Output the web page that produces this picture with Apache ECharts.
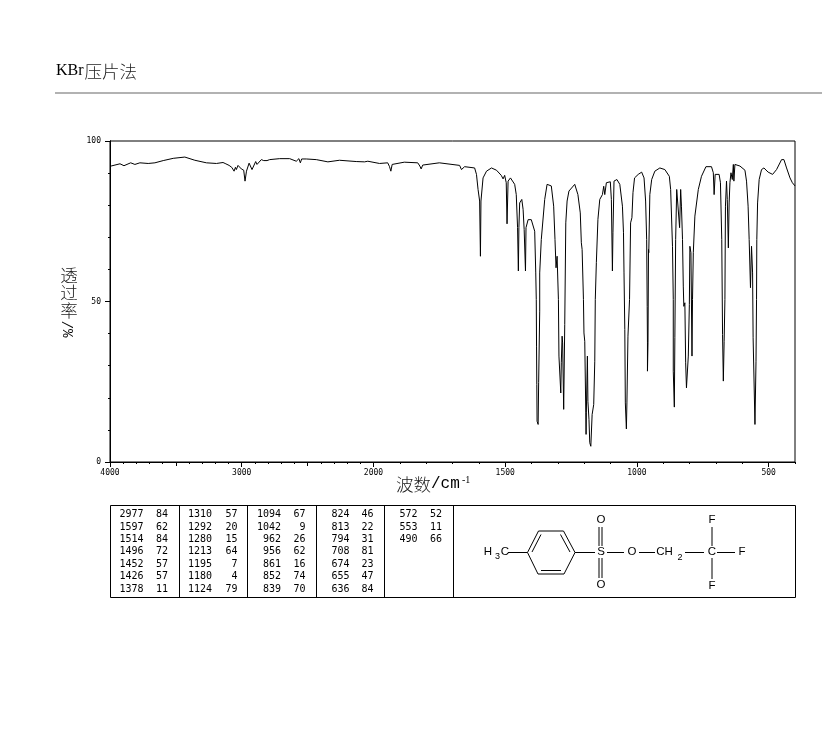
<!DOCTYPE html>
<html>
<head>
<meta charset="utf-8">
<script src="https://cdn.jsdelivr.net/npm/echarts@6/dist/echarts.min.js"></script>
<style>html,body{margin:0;padding:0;background:#fff}#c{width:822px;height:737px}</style>
</head>
<body>
<div id="c"></div>
<script>
var wavenumbers = [3992,3924,3894,3843,3811,3773,3710,3659,3596,3520,3432,3356,3268,3192,3142,3126,3111,3096,3086,3076,3066,3058,3048,3041,3028,3015,3003,2985,2975,2964,2944,2922,2894,2884,2851,2833,2821,2808,2788,2712,2636,2586,2566,2555,2545,2510,2434,2346,2258,2131,2068,2043,1977,1946,1939,1934,1929,1883,1832,1824,1819,1813,1750,1673,1666,1660,1654,1616,1609,1603,1597,1594,1592,1584,1571,1552,1533,1515,1508,1502,1496,1493,1489,1480,1464,1458,1453,1450,1448,1445,1437,1432,1428,1423,1421,1413,1401,1388,1384,1382,1381,1380,1379,1378,1375,1373,1369,1369,1363,1350,1341,1334,1325,1316,1311,1307,1303,1298,1296,1289,1287,1284,1282,1278,1274,1270,1265,1258,1236,1224,1215,1211,1208,1203,1201,1198,1194,1193,1192,1188,1186,1182,1179,1175,1170,1164,1160,1158,1154,1148,1141,1131,1126,1122,1116,1101,1097,1093,1091,1087,1076,1065,1055,1051,1049,1046,1044,1040,1038,1034,1028,1024,1019,1015,1009,995,982,973,967,963,961,960,960,958,956,955,951,944,932,913,894,877,872,865,862,862,858,856,853,849,846,842,838,834,831,827,824,822,818,815,812,808,805,801,799,795,791,789,786,780,767,755,738,717,710,707,703,688,683,678,675,672,669,666,664,660,657,653,650,647,643,638,634,632,628,609,590,584,578,574,569,565,561,559,552,548,546,545,542,536,527,518,502,485,470,451,442,432,419,410,400];
var transmittance = [92.2,92.9,92.3,93.2,92.7,93.2,93.0,93.2,93.9,94.6,95.0,94.0,93.2,93.0,93.3,93.0,93.2,92.4,92.9,91.8,92.4,90.6,91.8,91.1,92.4,92.6,91.3,90.9,87.5,90.6,93.1,91.1,93.6,92.7,94.2,93.9,94.3,93.9,94.2,94.5,94.5,93.7,94.5,93.2,94.4,94.4,94.2,93.5,94.0,93.6,93.5,93.7,93.0,93.2,92.0,90.6,92.7,93.4,93.2,92.2,91.3,92.5,93.2,92.4,91.1,91.3,92.0,91.6,89.6,84.9,81.3,64.1,81.3,88.5,90.6,91.6,90.9,89.3,88.2,89.3,87.0,74.2,87.5,88.5,86.5,83.3,73.0,59.5,73.0,80.7,81.8,78.7,72.4,59.5,73.0,75.5,75.5,71.9,58.9,50.6,36.1,24.1,12.7,12.7,11.7,24.7,47.0,58.9,69.3,81.8,86.5,87.0,86.0,79.7,69.3,60.5,64.1,50.6,33.0,21.5,30.9,39.2,37.1,16.4,42.8,74.5,81.3,84.4,86.5,83.3,77.6,68.3,66.2,50.6,40.2,37.6,15.3,8.6,15.3,33.0,18.9,13.3,6.0,4.9,14.8,17.9,31.4,50.6,62.1,75.6,81.8,83.3,85.9,83.3,87.0,87.3,81.8,59.5,71.4,87.5,88.0,86.5,79.7,71.4,58.9,41.3,18.4,10.3,18.4,39.2,50.6,74.5,76.1,83.9,88.5,89.6,90.3,88.5,81.3,69.3,48.5,37.1,28.3,37.1,66.2,65.2,83.3,88.0,90.6,91.6,91.1,89.0,84.9,67.2,50.6,28.3,17.1,38.7,69.3,84.9,85.1,84.9,73.0,84.9,79.7,69.3,54.8,48.5,49.6,30.9,23.1,23.1,33.0,49.0,67.2,65.2,33.0,50.6,65.2,76.6,84.9,89.0,92.0,92.0,90.1,83.3,89.6,89.6,87.0,69.3,39.7,25.2,37.6,50.6,79.7,87.5,81.8,66.7,80.7,87.0,90.1,88.0,92.7,87.5,92.7,92.2,90.9,87.5,79.7,69.3,54.3,67.2,58.9,38.7,11.7,31.4,50.6,69.3,80.7,88.0,91.1,91.6,90.3,89.6,91.1,94.2,94.2,91.6,88.5,87.0,86.0];

var xTickLabels = [4000,3000,2000,1500,1000,500];
var xMidTicks = [3500,2500];
var xMinorTicks = [3900,3800,3700,3600,3400,3300,3200,3100,2900,2800,2700,2600,2400,2300,2200,2100,1900,1800,1700,1600,1400,1300,1200,1100,900,800,700,600,400];
var yTickLabels = [0,50,100];
var yMinorTicks = [10,20,30,40,60,70,80,90];

var tableWavenumbers = [
  [2977,1597,1514,1496,1452,1426,1378],
  [1310,1292,1280,1213,1195,1180,1124],
  [1094,1042,962,956,861,852,839],
  [824,813,794,708,674,655,636],
  [572,553,490]
];
var tableIntensities = [
  [84,62,84,72,57,57,11],
  [57,20,15,64,7,4,79],
  [67,9,26,62,16,74,70],
  [46,22,31,81,23,47,84],
  [52,11,66]
];
var headerText = 'KBr压片法';
var yTitleChars = ['透','过','率'];
var yTitleUnit = '%/';

// The instrument's wavenumber axis changes scale at 2000 cm-1.
function toPos(w){ return w >= 2000 ? (4000 - w) / 1000 : 2 + (2000 - w) / 500; }
function toWave(p){ return p <= 2 ? 4000 - p * 1000 : 2000 - (p - 2) * 500; }

var serif = '"Liberation Serif","Noto Sans CJK SC",serif';
var mono = '"DejaVu Sans Mono","Liberation Mono",monospace';
var lmono = '"Liberation Mono",monospace';
var sans = '"Liberation Sans","DejaVu Sans",sans-serif';
var cjk = '300 17.5px "Noto Sans CJK SC"';

function ln(x1,y1,x2,y2,w,c){ return {type:'line',silent:true,shape:{x1:x1,y1:y1,x2:x2,y2:y2},style:{stroke:c||'#000',lineWidth:w||1}}; }
function tx(x,y,t,font,align,extra){
  var o = {type:'text',silent:true,x:x,y:y,style:{text:t,font:font,fill:'#000',textAlign:align||'center',textVerticalAlign:'middle'}};
  if(extra){ for(var k in extra){ o[k]=extra[k]; } }
  return o;
}

var g = [];
g.push(tx(56,71,headerText.slice(0,3),'16px '+serif,'left'));
var hz = tx(84.5,71,headerText.slice(3),cjk,'left'); hz.style.fill='#222'; g.push(hz);
g.push(ln(55,93,822,93,1.4,'#999'));

// axis titles
yTitleChars.forEach(function(c,i){
  var t = tx(69,275+i*17.7,c,cjk,'center'); t.style.fill='#222'; g.push(t);
});
g.push(tx(69,329,yTitleUnit,'14px '+lmono,'center',{rotation:Math.PI/2}));
var t1 = tx(396,484,'波数',cjk,'left'); t1.style.fill='#222'; g.push(t1);
g.push(tx(431,484,'/cm','16px '+lmono,'left'));
g.push(tx(462,480,'-1','10px '+serif,'left'));

// peak table
var tableTop = 505.5, tableBottom = 597.5, tableLeft = 110.5, tableRight = 795.5;
g.push({type:'rect',silent:true,shape:{x:tableLeft,y:tableTop,width:tableRight-tableLeft,height:tableBottom-tableTop},style:{fill:'none',stroke:'#000',lineWidth:1}});
[179.5,247.5,316.5,384.5,453.5].forEach(function(x){ g.push(ln(x,tableTop,x,tableBottom)); });
var wRight = [143.5,212,281,349.5,417.5], iRight = [168,237.5,305.5,373.5,442];
tableWavenumbers.forEach(function(col,c){
  col.forEach(function(v,r){
    var y = 514.7 + r*12.4;
    g.push(tx(wRight[c],y,String(v),'10px '+mono,'right'));
    g.push(tx(iRight[c],y,String(tableIntensities[c][r]),'10px '+mono,'right'));
  });
});

// structure drawing
var mf = '11.5px '+sans;
[[488,552,'H'],[505,552,'C'],[601,552,'S'],[601,520,'O'],[601,585,'O'],[632,552,'O'],[664.5,552,'CH'],[712,552,'C'],[742,552,'F'],[712,520,'F'],[712,586,'F']].forEach(function(a){
  g.push(tx(a[0],a[1],a[2],mf,'center'));
});
g.push(tx(497.5,557,'3','9px '+sans,'center'));
g.push(tx(680,557.5,'2','9px '+sans,'center'));
[[508,552.5,527.5,552.5],[527.5,552.5,538.5,531],[538.5,531,563.5,531],[563.5,531,575,552.5],[575,552.5,564,574],[564,574,538,574],[538,574,527.5,552.5],
 [532,552,541,534.5],[560.5,534.5,570,552],[541,570.5,561,570.5],
 [575,552.5,595,552.5],[599,527,599,546],[602,527,602,546],[599,558,599,578],[602,558,602,578],
 [607,552.5,624,552.5],[639,552.5,655,552.5],[685,552.5,704,552.5],[717,552.5,735,552.5],[712,527,712,546],[712,558,712,579]
].forEach(function(s){ g.push(ln(s[0],s[1],s[2],s[3])); });

var lineData = wavenumbers.map(function(w,i){ return [toPos(w),transmittance[i]]; });
var tickFont = {color:'#000',fontFamily:mono,fontSize:8};
var axisLineStyle = {color:'#000',width:1};

function xAxisOf(values,len,withLabel){
  return {type:'value',min:0,max:5.2,position:'bottom',splitLine:{show:false},
    axisLine:{show:true,onZero:false,lineStyle:axisLineStyle},
    axisTick:{show:true,length:len,customValues:values,lineStyle:axisLineStyle},
    axisLabel:withLabel?Object.assign({show:true,margin:7,customValues:values,hideOverlap:false,formatter:function(v){return String(toWave(v));}},tickFont):{show:false}};
}
function yAxisOf(values,len,withLabel){
  return {type:'value',min:0,max:100,position:'left',splitLine:{show:false},
    axisLine:{show:true,onZero:false,lineStyle:axisLineStyle},
    axisTick:{show:true,length:len,customValues:values,lineStyle:axisLineStyle},
    axisLabel:withLabel?Object.assign({show:true,margin:9,customValues:values},tickFont):{show:false}};
}

var chart = echarts.init(document.getElementById('c'),null,{renderer:'canvas'});
chart.setOption({
  animation:false,
  backgroundColor:'#fff',
  grid:{left:110,top:141,width:685,height:321,show:true,borderColor:'#000',borderWidth:1,backgroundColor:'transparent',containLabel:false},
  xAxis:[xAxisOf(xTickLabels.map(toPos),5,true),xAxisOf(xMidTicks.map(toPos),4,false),xAxisOf(xMinorTicks.map(toPos),2,false)],
  yAxis:[yAxisOf(yTickLabels,5,true),yAxisOf(yMinorTicks,2,false)],
  series:[{type:'line',xAxisIndex:0,yAxisIndex:0,data:lineData,showSymbol:false,smooth:false,clip:true,silent:true,lineStyle:{color:'#000',width:1,cap:'butt',join:'miter'}}],
  graphic:g
});
</script>
</body>
</html>
